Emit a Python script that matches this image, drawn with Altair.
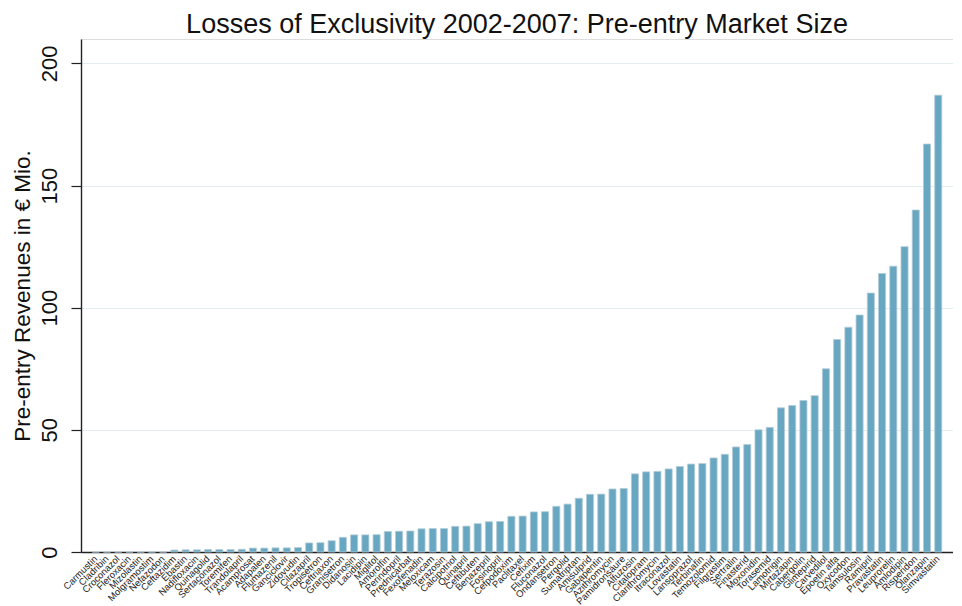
import altair as alt
import pandas as pd

drugs = [
    "Carmustin", "Cladribin", "Croconazol", "Fleroxacin", "Mizolastin", "Molgramostim",
    "Nefazodon", "Ceftazidim", "Ebastin", "Nadifloxacin", "Quinagolid", "Sertaconazol",
    "Toremifen", "Trandolapril", "Acamprosat", "Adapalen", "Flumazenil", "Ganciclovir",
    "Zidovudin", "Cilazapril", "Tropisetron", "Ceftriaxon", "Granisetron", "Didanosin",
    "Lacidipin", "Miglitol", "Amorolfin", "Perindopril", "Prednicarbat", "Fexofenadin",
    "Meloxicam", "Terazosin", "Calcipotriol", "Quinapril", "Ceftibuten", "Benazepril",
    "Fosinopril", "Cefpodoxim", "Paclitaxel", "Cefixim", "Fluconazol", "Ondansetron",
    "Pergolid", "Sumatriptan", "Amisulprid", "Gabapentin", "Azithromycin", "Pamidronsäure",
    "Alfuzosin", "Citalopram", "Clarithromycin", "Itraconazol", "Lovastatin", "Lansoprazol",
    "Terbinafin", "Temozolomid", "Filgrastim", "Sertralin", "Finasterid", "Moxonidin",
    "Torasemid", "Lamotrigin", "Mirtazapin", "Cabergolin", "Glimepirid", "Carvedilol",
    "Epoetin alfa", "Oxycodon", "Tamsulosin", "Ramipril", "Pravastatin", "Leuprorelin",
    "Amlodipin", "Risperidon", "Olanzapin", "Simvastatin",
]

revenues = [
    0, 0, 0, 0, 0, 0, 0,
    0.8, 0.9, 0.9, 1.0, 1.0, 1.0, 1.1,
    1.6, 1.6, 1.7, 1.7, 1.8,
    3.7, 3.8, 4.6, 6.0,
    7.0, 7.0, 7.1,
    8.4, 8.5, 8.6,
    9.5, 9.6, 9.6,
    10.5, 10.6, 11.6,
    12.4, 12.5, 14.6, 14.7,
    16.4, 16.5, 18.7, 19.6,
    22.0, 23.6, 23.7, 25.8, 26.0,
    32.0, 32.8, 33.0, 34.0, 35.0,
    36.0, 36.2, 38.5, 40.0, 43.0, 44.0,
    50.0, 51.0, 59.0, 60.0, 62.0, 64.0,
    75.0, 87.0, 92.0, 97.0, 106.0, 114.0,
    117.0, 125.0, 140.0, 167.0, 187.0,
]

y_ticks = [0, 50, 100, 150, 200]

df = pd.DataFrame({"drug": drugs, "rev": revenues})

FONT = "Liberation Sans"

chart = alt.Chart(df).mark_bar(
    color="#67a7c1", stroke="#b4ccd6", strokeWidth=0.8
).encode(
    x=alt.X(
        "drug:N",
        sort=drugs,
        scale=alt.Scale(paddingInner=0.37, paddingOuter=1),
        axis=alt.Axis(
            title=None, ticks=False, labelAngle=-45, labelAlign="right",
            labelBaseline="middle", labelFontSize=9.5, labelFont=FONT,
            labelColor="#222222", labelOverlap=False, labelPadding=5,
            domainColor="#222222", domainWidth=1.6, grid=False,
        ),
    ),
    y=alt.Y(
        "rev:Q",
        scale=alt.Scale(domain=[0, 210], nice=False),
        axis=alt.Axis(
            title="Pre-entry Revenues in € Mio.", values=y_ticks,
            labelAngle=-90, labelAlign="center", labelBaseline="bottom",
            labelFontSize=22, labelFont=FONT, labelColor="#111111",
            labelPadding=10, tickSize=10, tickColor="#222222", tickWidth=1.2,
            domainColor="#222222", domainWidth=1.4,
            titleFontSize=22.5, titleFont=FONT, titleFontWeight="normal",
            titleColor="#111111", titlePadding=4,
            grid=True, gridColor="#e4eef0", gridWidth=1.2,
        ),
    ),
).properties(
    width=872,
    height=513,
    title=alt.TitleParams(
        "Losses of Exclusivity 2002-2007: Pre-entry Market Size",
        fontSize=27, font=FONT, fontWeight="normal", color="#111111",
        anchor="middle", offset=0,
    ),
    padding={"left": 3, "top": 3, "right": 0, "bottom": 0},
).configure_view(stroke=None).configure(background="white")

chart.save("out.html", embed_options={"renderer": "svg", "actions": False})
